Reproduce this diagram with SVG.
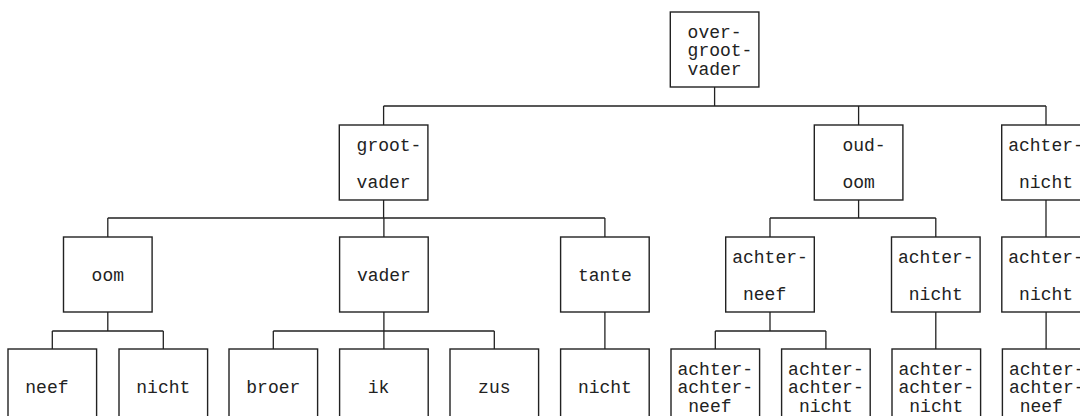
<svg xmlns="http://www.w3.org/2000/svg" width="1080" height="416" viewBox="0 0 1080 416">
<style>
rect.n{fill:#fff;stroke:#222;stroke-width:1.4}
text{font-family:"Liberation Mono","Courier New",monospace;font-size:18px;fill:#222}
#connectors path{fill:none;stroke:#222;stroke-width:1.3}
</style>
<rect width="1080" height="416" fill="#fff"/>
<g id="connectors">
<path d="M714.6 87V106M383.6 106H1046M383.6 106V125M858.6 106V125M1046 106V125"/>
<path d="M383.6 200V218M107.8 218H604.9M107.8 218V237M383.9 218V237M604.9 218V237"/>
<path d="M858.6 200V218M770 218H935.8M770 218V237M935.8 218V237"/>
<path d="M1046 200V237"/>
<path d="M107.8 312V331M52.3 331H163.3M52.3 331V349M163.3 331V349"/>
<path d="M383.9 312V331M273.3 331H494.3M273.3 331V349M383.9 331V349M494.3 331V349"/>
<path d="M604.9 312V349"/>
<path d="M770 312V331M715.3 331H825.9M715.3 331V349M825.9 331V349"/>
<path d="M935.8 312V349"/>
<path d="M1046.1 312V349"/>
</g>
<g id="n-overgrootvader"><rect class="n" x="670.3" y="12" width="88.6" height="75"/><text x="687.6" y="37.5">over-</text><text x="687.6" y="56">groot-</text><text x="687.6" y="74.5">vader</text></g>
<g id="n-grootvader"><rect class="n" x="339.3" y="125" width="88.6" height="75"/><text x="356.6" y="150.5">groot-</text><text x="356.6" y="187.5">vader</text></g>
<g id="n-oudoom"><rect class="n" x="814.3" y="125" width="88.6" height="75"/><text x="842.4" y="150.5">oud-</text><text x="842.4" y="187.5">oom</text></g>
<g id="n-achternicht-2"><rect class="n" x="1001.7" y="125" width="88.6" height="75"/><text x="1008.2" y="150.5">achter-</text><text x="1019" y="187.5">nicht</text></g>
<g id="n-oom"><rect class="n" x="63.5" y="237" width="88.6" height="75"/><text x="91.6" y="281">oom</text></g>
<g id="n-vader"><rect class="n" x="339.6" y="237" width="88.6" height="75"/><text x="356.9" y="281">vader</text></g>
<g id="n-tante"><rect class="n" x="560.6" y="237" width="88.6" height="75"/><text x="577.9" y="281">tante</text></g>
<g id="n-achterneef"><rect class="n" x="725.7" y="237" width="88.6" height="75"/><text x="732.2" y="262.5">achter-</text><text x="743" y="299.5">neef</text></g>
<g id="n-achternicht-3a"><rect class="n" x="891.5" y="237" width="88.6" height="75"/><text x="898" y="262.5">achter-</text><text x="908.8" y="299.5">nicht</text></g>
<g id="n-achternicht-3b"><rect class="n" x="1001.8" y="237" width="88.6" height="75"/><text x="1008.3" y="262.5">achter-</text><text x="1019.1" y="299.5">nicht</text></g>
<g id="n-neef"><rect class="n" x="8" y="349" width="88.6" height="75"/><text x="25.3" y="393">neef</text></g>
<g id="n-nicht-1"><rect class="n" x="119" y="349" width="88.6" height="75"/><text x="136.3" y="393">nicht</text></g>
<g id="n-broer"><rect class="n" x="229" y="349" width="88.6" height="75"/><text x="246.3" y="393">broer</text></g>
<g id="n-ik"><rect class="n" x="339.6" y="349" width="88.6" height="75"/><text x="367.7" y="393">ik</text></g>
<g id="n-zus"><rect class="n" x="450" y="349" width="88.6" height="75"/><text x="478.1" y="393">zus</text></g>
<g id="n-nicht-2"><rect class="n" x="560.6" y="349" width="88.6" height="75"/><text x="577.9" y="393">nicht</text></g>
<g id="n-aaneef-1"><rect class="n" x="671" y="349" width="88.6" height="75"/><text x="677.5" y="374.5">achter-</text><text x="677.5" y="393">achter-</text><text x="688.3" y="411.5">neef</text></g>
<g id="n-aanicht-1"><rect class="n" x="781.6" y="349" width="88.6" height="75"/><text x="788.1" y="374.5">achter-</text><text x="788.1" y="393">achter-</text><text x="798.9" y="411.5">nicht</text></g>
<g id="n-aanicht-2"><rect class="n" x="892" y="349" width="88.6" height="75"/><text x="898.5" y="374.5">achter-</text><text x="898.5" y="393">achter-</text><text x="909.3" y="411.5">nicht</text></g>
<g id="n-aaneef-2"><rect class="n" x="1002.4" y="349" width="88.6" height="75"/><text x="1008.9" y="374.5">achter-</text><text x="1008.9" y="393">achter-</text><text x="1019.7" y="411.5">neef</text></g>
</svg>
